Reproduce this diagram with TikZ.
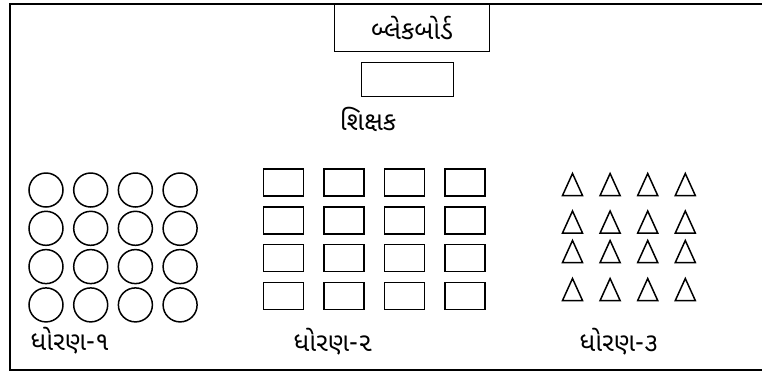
\documentclass[tikz,border=0pt]{standalone}
\usepackage{fontspec}
\newfontfamily\gujfont[Script=Gujarati]{Noto Sans Gujarati UI}
\usetikzlibrary{positioning}

\tikzset{every picture/.style={line width=0.75pt}}
\tikzset{
  seat/.style={draw, circle, line width=1.5pt, minimum size=34, inner sep=0pt},
  bench/.style={draw, rectangle, line width=1.5pt, minimum width=40, minimum height=27, inner sep=0pt},
  tri/.style={line width=1.5pt, line join=miter},
  label/.style={font=\gujfont\fontsize{26}{30}\selectfont, inner sep=0pt}
}

\begin{document}
\begin{tikzpicture}[x=1pt,y=1pt,yscale=-1]
	\useasboundingbox (0,0) rectangle (762,373);
	
	%Frame
	\draw [line width=2pt] (762,3.5) -- (10,3.5) -- (10,369.5) -- (762,369.5) ;
	%Blackboard
	\node [draw, line width=1.5pt, minimum width=155, minimum height=48, label] (board) at (412,27.5) {બ્લેકબોર્ડ};
	%Teacher desk
	\node [draw, line width=1.5pt, minimum width=92, minimum height=34] (desk) at (407.5,79.5) {};
	\node [label] (teacher) at (368,119) {શિક્ષક};
	
	%Class 1: circles
	\foreach \i in {0,...,3} {
		\foreach \j in {0,...,3} {
			\node [seat] (c-\i-\j) at (46+44.7*\i, 190+38.3*\j) {};
		}
	}
	\node [label] (class1) at (70,341) {ધોરણ-૧};
	
	%Class 2: rectangles
	\foreach \i in {0,...,3} {
		\foreach \j in {0,...,3} {
			\node [bench] (r-\i-\j) at (283.5+60.5*\i, 182.5+37.8*\j) {};
		}
	}
	\node [label] (class2) at (333,342) {ધોરણ-૨};
	
	%Class 3: triangles
	\foreach \i in {0,...,3} {
		\foreach \y in {184.5,222,251.5,289.5} {
			\draw [tri] (562.5+37.6*\i,\y+11) -- (572.5+37.6*\i,\y-11) -- (582.5+37.6*\i,\y+11) -- cycle ;
		}
	}
	\node [label] (class3) at (619,342) {ધોરણ-૩};
\end{tikzpicture}
\end{document}
